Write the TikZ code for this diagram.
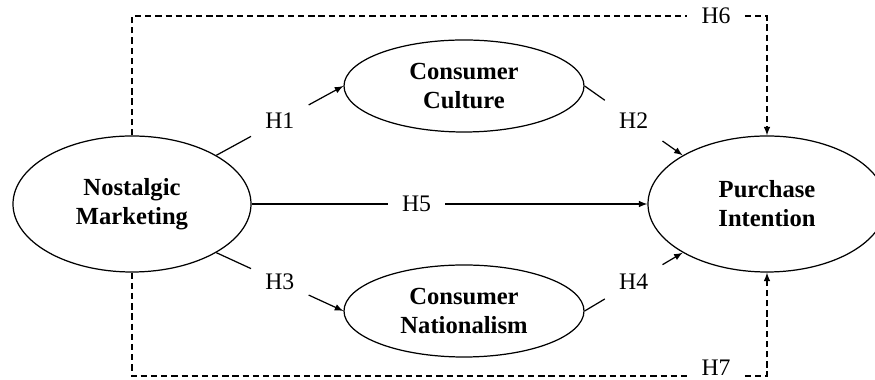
\documentclass[tikz,border=0pt]{standalone}
\usepackage{fontspec}
\setmainfont{Liberation Serif}
\usetikzlibrary{calc,shapes.geometric}

\tikzset{
  latent/.style={ellipse,draw,line width=0.7pt,inner sep=0pt,align=center,
    font=\fontsize{14}{16.5}\selectfont\bfseries,
    minimum width=4.76cm,minimum height=2.72cm},
  hyp/.style={inner sep=0.28cm,font=\fontsize{13.5}{15.5}\selectfont},
  link/.style={line width=0.7pt},
  dlink/.style={line width=0.7pt,dash pattern=on 3.6pt off 2.2pt}
}

\begin{document}
\begin{tikzpicture}
    \useasboundingbox (0,0) rectangle (17.5,7.6);
    % constructs
    \node[latent] (nm) at (2.64,3.52) {Nostalgic\\Marketing};
    \node[latent,minimum width=4.8cm,minimum height=1.84cm] (cc) at (9.28,5.88) {Consumer\\Culture};
    \node[latent,minimum width=4.8cm,minimum height=1.84cm] (cn) at (9.28,1.38) {Consumer\\Nationalism};
    \node[latent] (pi) at (15.34,3.52) {Purchase\\Intention};
    % hypotheses
    \node[hyp] (h1) at ($(nm.30)!0.5!(cc.west)$) {H1};
    \node[hyp] (h2) at ($(cc.east)!0.5!(pi.150)$) {H2};
    \node[hyp] (h3) at ($(nm.-30)!0.5!(cn.west)$) {H3};
    \node[hyp] (h4) at ($(cn.east)!0.5!(pi.-150)$) {H4};
    \node[hyp] (h5) at (8.33,3.52) {H5};
    \node[hyp] (h6) at (14.32,7.28) {H6};
    \node[hyp,anchor=base] (h7) at (14.32,0.08) {H7};
    \draw[link] (nm.30) -- (h1);
    \draw[link,-latex] (h1) -- (cc.west);
    \draw[link] (cc.east) -- (h2);
    \draw[link,-latex] (h2) -- (pi.150);
    \draw[link] (nm.-30) -- (h3);
    \draw[link,-latex] (h3) -- (cn.west);
    \draw[link] (cn.east) -- (h4);
    \draw[link,-latex] (h4) -- (pi.-150);
    \draw[link] (nm.east) -- (h5);
    \draw[link,-latex] (h5) -- (pi.west);
    % direct effects
    \draw[dlink] (nm.north) |- (h6);
    \draw[dlink,-latex] (h6) -| (pi.north);
    \draw[dlink] (nm.south) |- (h7.base west);
    \draw[dlink,-latex] (h7.base east) -| (pi.south);
\end{tikzpicture}
\end{document}
